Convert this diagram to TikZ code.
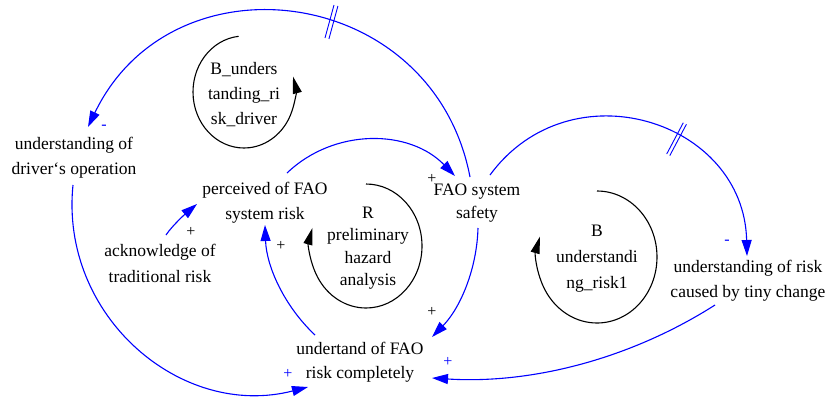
\documentclass[tikz,border=0pt]{standalone}
\usepackage{fontspec}
\setmainfont{Liberation Serif}
\usetikzlibrary{arrows.meta,calc}
\begin{document}
\begin{tikzpicture}[x=1pt,y=-1pt,
  var/.style={align=center,inner sep=0pt,font=\fontsize{17.5}{25}\selectfont},
  link/.style={draw=blue,line width=1.1pt,-{Triangle[length=16pt,width=10pt]}},
  loopline/.style={draw=black,line width=1.1pt,-{Triangle[length=17pt,width=9pt]}},
  slash/.style={draw=blue,line width=0.9pt},
  sign/.style={inner sep=0pt,font=\fontsize{16}{16}\selectfont},
  plusk/.style={sign,text=black},
  plusb/.style={sign,text=blue},
  minusb/.style={sign,text=blue}]
\path[use as bounding box] (0,0) rectangle (828,397);

% variables
\node[var] (drv) at (74,158) {understanding of\\driver‘s operation};
\node[var] (perc) at (265,203) {perceived of FAO\\system risk};
\node[var,font=\fontsize{17.5}{23}\selectfont] (safety) at (477,203) {FAO system\\safety};
\node[var,font=\fontsize{17.5}{26}\selectfont] (ack) at (160,263) {acknowledge of\\traditional risk};
\node[var,font=\fontsize{17.5}{24}\selectfont] (compl) at (360,362) {undertand of FAO\\risk completely};
\node[var] (tiny) at (748,281) {understanding of risk\\caused by tiny change};

% loop labels
\node[var] (bdrv) at (244,95) {B\_unders\\tanding\_ri\\sk\_driver};
\node[var,font=\fontsize{17.5}{22.5}\selectfont] (rlab) at (368,248) {R\\preliminary\\hazard\\analysis};
\node[var,font=\fontsize{17.5}{26}\selectfont] (brisk) at (597,259) {B\\understandi\\ng\_risk1};

% causal links
\draw[link] ($(safety)+(-7,-26)$) .. controls (433.3,-15.2) and (172.8,-49.2) .. ($(drv)+(14,-31)$);
\draw[link] ($(perc)+(22,-30)$) .. controls (334.3,127.8) and (409.3,129.0) .. ($(safety)+(-22,-27)$);
\draw[link] ($(safety)+(13,-28)$) .. controls (570.4,65.6) and (743.9,120.2) .. ($(tiny)+(-1,-25)$);
\draw[link] ($(safety)+(1,25)$) .. controls (476.9,268.8) and (460.5,307.8) .. ($(compl)+(72,-25)$);
\draw[link] ($(tiny)+(-33,24)$) .. controls (630.8,358.7) and (531.8,384.3) .. ($(compl)+(72,16)$);
\draw[link] ($(drv)+(-1,27)$) .. controls (59.7,315.6) and (180.7,419.8) .. ($(compl)+(-52,25)$);
\draw[link] ($(compl)+(-45,-27)$) .. controls (284.5,306.3) and (266.5,266.8) .. ($(perc)+(0,22)$);
\draw[link] ($(ack)+(6,-28)$) .. controls (172.6,225) and (187.8,211.7) .. ($(perc)+(-68,1)$);

% delay marks
\draw[slash] (325,38) -- (334,5) (328.9,39) -- (337.9,6);
\draw[slash] (666.7,154) -- (683.3,122.7) (669.8,155.6) -- (686.4,124.3);

% polarities
\node[minusb] (p1) at (104,127) {-};
\node[plusk]  (p2) at (432,179) {+};
\node[plusk]  (p3) at (191,232) {+};
\node[plusk]  (p4) at (281,246) {+};
\node[plusb]  (p5) at (288,374) {+};
\node[plusk]  (p6) at (432,312) {+};
\node[plusb]  (p7) at (448,362) {+};
\node[minusb] (p8) at (727,242) {-};

% loop symbols
\draw[loopline] ($(bdrv)+(0,-3)+(96:51pt and 56pt)$) arc[start angle=96,end angle=376,x radius=51pt,y radius=56pt];
\draw[loopline] ($(rlab)+(-2,-2)+(90:56pt and 62pt)$) arc[start angle=90,end angle=-197,x radius=56pt,y radius=62pt];
\draw[loopline] ($(brisk)+(0,-2)+(90:60pt and 66pt)$) arc[start angle=90,end angle=-198,x radius=60pt,y radius=66pt];
\end{tikzpicture}
\end{document}
